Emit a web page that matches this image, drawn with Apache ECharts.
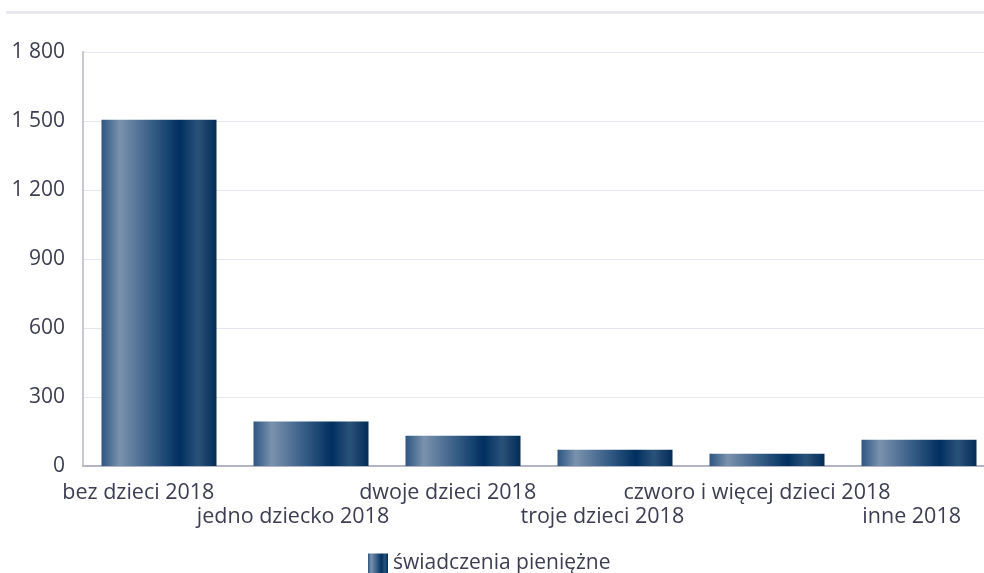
<!DOCTYPE html>
<html>
<head>
<meta charset="utf-8">
<script src="https://cdn.jsdelivr.net/npm/echarts@6/dist/echarts.min.js"></script>
<style>html,body{margin:0;padding:0;background:#fff;overflow:hidden;}#c{width:1010px;height:573px;}</style>
</head>
<body>
<div id="c"></div>
<script>
const categories = ['bez dzieci 2018', 'jedno dziecko 2018', 'dwoje dzieci 2018', 'troje dzieci 2018', 'czworo i więcej dzieci 2018', 'inne 2018'];
const values = [1505, 194, 132, 71, 53, 114];
const seriesName = 'świadczenia pieniężne';
const yMin = 0, yMax = 1800, yInterval = 300;

const FONT = 'Open Sans';
const TXT = '#3d3d52';
const barGradient = {
  type: 'linear', x: 0, y: 0, x2: 1, y2: 0,
  colorStops: [
    { offset: 0, color: '#2c5683' },
    { offset: 0.16, color: '#7a92ad' },
    { offset: 0.42, color: '#3b6189' },
    { offset: 0.68, color: '#00305f' },
    { offset: 0.84, color: '#2b5279' },
    { offset: 1, color: '#022c57' }
  ]
};
const fmt = v => String(v).replace(/\B(?=(\d{3})+(?!\d))/g, ' ');

const chart = echarts.init(document.getElementById('c'), null, { renderer: 'canvas' });
chart.setOption({
  animation: false,
  textStyle: { fontFamily: FONT },
  graphic: [{
    type: 'rect', left: 6, top: 11, shape: { width: 1004, height: 3 },
    style: { fill: '#e8e8f0' }, silent: true
  }],
  legend: {
    top: 548, left: 363, itemWidth: 20, itemHeight: 20,
    textStyle: { color: TXT, fontSize: 21, fontFamily: FONT },
    icon: 'rect',
    data: [seriesName]
  },
  grid: [
    { left: 83, top: 52, width: 912, height: 414 },
    { left: 61, top: 52, width: 928, height: 414 }
  ],
  xAxis: [
    {
      type: 'category', data: categories, gridIndex: 0,
      axisLine: { lineStyle: { color: '#b4b4c8', width: 2 } },
      axisTick: { show: false }, axisLabel: { show: false }
    },
    {
      type: 'category', data: categories, gridIndex: 1,
      axisLine: { show: false }, axisTick: { show: false },
      axisLabel: {
        interval: 0, margin: 15, color: TXT, fontSize: 21.5, lineHeight: 24, fontFamily: FONT,
        formatter: (v, i) => (i % 2 ? '\n' + v : v)
      }
    }
  ],
  yAxis: [
    {
      type: 'value', gridIndex: 0, min: yMin, max: yMax, interval: yInterval,
      axisLine: { show: true, lineStyle: { color: '#c8c8d8', width: 2 } },
      axisTick: { show: false },
      splitLine: { lineStyle: { color: '#e6e6ef', width: 1 } },
      axisLabel: { margin: 18, color: TXT, fontSize: 21, fontFamily: FONT, formatter: fmt }
    },
    {
      type: 'value', gridIndex: 1, min: yMin, max: yMax, interval: yInterval, show: false
    }
  ],
  series: [{
    name: seriesName, type: 'bar', xAxisIndex: 0, yAxisIndex: 0,
    data: values, barWidth: 115,
    itemStyle: { color: barGradient }
  }]
});
</script>
</body>
</html>
